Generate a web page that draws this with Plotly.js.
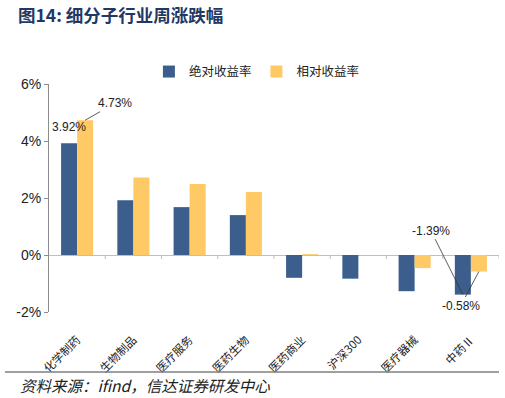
<!DOCTYPE html>
<html>
<head>
<meta charset="utf-8">
<script src="https://cdn.plot.ly/plotly-3.0.1.min.js"></script>
<style>html,body{margin:0;padding:0;background:#fff;}#chart{width:505px;height:398px;}</style>
</head>
<body>
<div id="chart"></div>
<script>
const categories = ['化学制药','生物制品','医疗服务','医药生物','医药商业','沪深300','医疗器械','中药Ⅱ'];
const absReturn = [3.92, 1.92, 1.68, 1.40, -0.80, -0.83, -1.27, -1.39];
const relReturn = [4.73, 2.72, 2.49, 2.21, 0.03, 0.00, -0.46, -0.58];
const seriesNames = ['绝对收益率', '相对收益率'];
const yTicks = [-2, 0, 2, 4, 6];

const FONT = 'Liberation Sans, Arial, Noto Sans CJK SC, sans-serif';
const CJK = 'Noto Sans CJK SC, Liberation Sans, sans-serif';
const BLUE = '#3B5E8C';
const YELLOW = '#FFC966';

const traces = [
  {type:'bar', name:seriesNames[0], x:categories, y:absReturn, marker:{color:BLUE}, hoverinfo:'skip'},
  {type:'bar', name:seriesNames[1], x:categories, y:relReturn, marker:{color:YELLOW}, hoverinfo:'skip'}
];

// category boundary tick marks on the zero line
const shapes = [];
for (let i = 0; i < categories.length; i++) {
  shapes.push({type:'line', xref:'x', yref:'y', ysizemode:'pixel', yanchor:0,
    x0:i+0.5, x1:i+0.5, y0:0, y1:-4, line:{color:'#bfbfbf', width:1}});
}
// source separator line
shapes.push({type:'line', xref:'paper', yref:'paper', x0:-0.098, x1:1.0, y0:-0.263, y1:-0.263,
  line:{color:'#7f7f7f', width:1.5}});

const off = 0.142;
const annFont = {family:FONT, size:12, color:'#222'};
const annotations = [
  {x:0-off, y:absReturn[0], xref:'x', yref:'y', text:absReturn[0].toFixed(2)+'%', showarrow:false,
   yanchor:'bottom', yshift:7, font:annFont},
  {x:0+off, y:relReturn[0], xref:'x', yref:'y', text:relReturn[0].toFixed(2)+'%', showarrow:true,
   arrowhead:0, arrowwidth:0.8, arrowcolor:'#333', ax:30, ay:-17, font:annFont},
  {x:7-off, y:absReturn[7], xref:'x', yref:'y', text:absReturn[7].toFixed(2)+'%', showarrow:true,
   arrowhead:0, arrowwidth:0.8, arrowcolor:'#333', ax:-32, ay:-64, font:annFont},
  {x:7+off, y:relReturn[7], xref:'x', yref:'y', text:relReturn[7].toFixed(2)+'%', showarrow:true,
   arrowhead:0, arrowwidth:0.8, arrowcolor:'#333', ax:-18, ay:34, font:annFont},
  {xref:'paper', yref:'paper', x:-0.069, y:-0.318, xanchor:'left', yanchor:'middle', showarrow:false,
   text:'<i>资料来源：ifind，信达证券研发中心</i>', font:{family:CJK, size:15.5, color:'#222'}}
];

const layout = {
  width:505, height:398,
  margin:{l:49, r:6, t:84, b:86},
  paper_bgcolor:'#fff', plot_bgcolor:'#fff',
  title:{text:'<b>图14: 细分子行业周涨跌幅</b>', x:18/505, xanchor:'left', xref:'container',
         y:1-16/398, yanchor:'middle', font:{family:CJK, size:17.5, color:'#1F3864'}},
  barmode:'group', bargap:0.43, bargroupgap:0,
  showlegend:true,
  legend:{orientation:'h', x:0.222, xanchor:'left', y:1.053, yanchor:'middle',
          font:{family:CJK, size:12.5, color:'#222'}, itemwidth:30},
  xaxis:{type:'category', range:[-0.5, categories.length-0.5], showline:false, showgrid:false, zeroline:false,
         ticks:'', ticklabelstandoff:18, ticklabelshift:0, tickangle:-45,
         tickfont:{family:CJK, size:11.5, color:'#222'}},
  yaxis:{range:[-2, 6], tickvals:yTicks, ticktext:yTicks.map(v=>v+'%'), showline:true, linecolor:'#8c8c8c',
         ticks:'outside', ticklen:4, tickcolor:'#8c8c8c', showgrid:false,
         zeroline:true, zerolinecolor:'#bfbfbf', zerolinewidth:1,
         tickfont:{family:FONT, size:14, color:'#222'}},
  shapes:shapes,
  annotations:annotations
};

Plotly.newPlot('chart', traces, layout, {displayModeBar:false, staticPlot:true});
</script>
</body>
</html>
